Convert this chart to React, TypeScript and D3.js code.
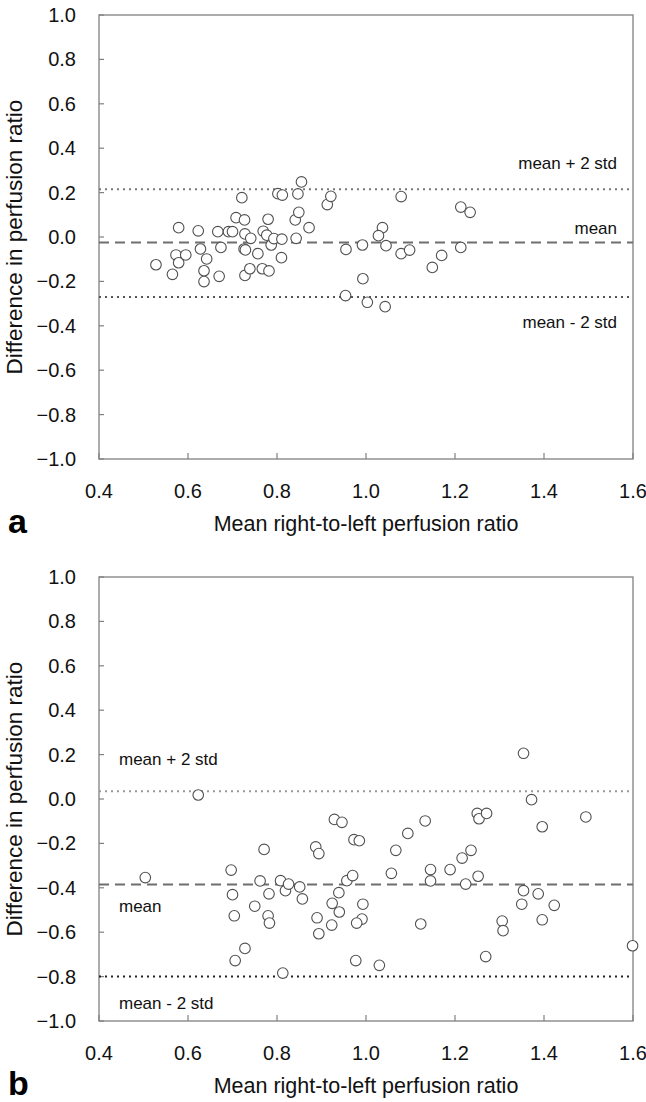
import React, { useRef, useEffect } from "react";
import * as d3 from "d3";

// panel a: mean ratio vs difference
const aX = [0.528, 0.565, 0.573, 0.579, 0.579, 0.595, 0.623, 0.628, 0.642, 0.636, 0.636, 0.667, 0.674, 0.670, 0.691, 0.700, 0.708, 0.721, 0.727, 0.728, 0.726, 0.729, 0.741, 0.728, 0.739, 0.757, 0.769, 0.777, 0.780, 0.787, 0.793, 0.767, 0.782, 0.802, 0.812, 0.811, 0.810, 0.841, 0.849, 0.847, 0.855, 0.843, 0.872, 0.913, 0.921, 0.955, 0.954, 0.992, 0.993, 1.003, 1.037, 1.028, 1.045, 1.043, 1.079, 1.079, 1.098, 1.149, 1.170, 1.213, 1.213, 1.234];
const aY = [-0.125, -0.168, -0.081, -0.116, 0.042, -0.081, 0.028, -0.054, -0.099, -0.152, -0.201, 0.024, -0.047, -0.177, 0.024, 0.024, 0.087, 0.177, 0.077, 0.014, -0.054, -0.058, -0.006, -0.173, -0.143, -0.075, 0.026, 0.008, 0.080, -0.036, -0.007, -0.143, -0.153, 0.195, 0.189, -0.010, -0.093, 0.077, 0.111, 0.194, 0.248, -0.006, 0.042, 0.146, 0.183, -0.056, -0.264, -0.036, -0.188, -0.294, 0.042, 0.006, -0.039, -0.314, 0.182, -0.075, -0.059, -0.137, -0.083, -0.047, 0.135, 0.111];

// panel b
const bX = [0.504, 0.623, 0.697, 0.700, 0.704, 0.706, 0.728, 0.750, 0.762, 0.771, 0.782, 0.780, 0.783, 0.808, 0.813, 0.819, 0.826, 0.851, 0.857, 0.887, 0.894, 0.890, 0.894, 0.929, 0.946, 0.924, 0.923, 0.939, 0.940, 0.957, 0.970, 0.973, 0.985, 0.993, 0.991, 0.979, 0.977, 1.030, 1.057, 1.067, 1.094, 1.123, 1.133, 1.145, 1.145, 1.189, 1.216, 1.236, 1.224, 1.252, 1.250, 1.254, 1.271, 1.269, 1.306, 1.308, 1.354, 1.372, 1.354, 1.350, 1.387, 1.396, 1.396, 1.423, 1.494, 1.599];
const bY = [-0.354, 0.018, -0.320, -0.431, -0.526, -0.728, -0.673, -0.483, -0.369, -0.227, -0.427, -0.526, -0.559, -0.368, -0.784, -0.413, -0.383, -0.396, -0.450, -0.216, -0.246, -0.535, -0.607, -0.092, -0.105, -0.470, -0.568, -0.422, -0.509, -0.368, -0.345, -0.183, -0.188, -0.474, -0.541, -0.559, -0.728, -0.749, -0.335, -0.231, -0.155, -0.563, -0.099, -0.318, -0.369, -0.318, -0.266, -0.231, -0.383, -0.348, -0.065, -0.089, -0.065, -0.710, -0.550, -0.593, 0.206, -0.003, -0.413, -0.474, -0.427, -0.125, -0.544, -0.479, -0.081, -0.661];

const xTicks = [0.4, 0.6, 0.8, 1.0, 1.2, 1.4, 1.6];
const yTicks = [-1.0, -0.8, -0.6, -0.4, -0.2, 0.0, 0.2, 0.4, 0.6, 0.8, 1.0];

// mean, mean + 2 std, mean - 2 std
const statsA = [-0.025, 0.215, -0.27];
const statsB = [-0.385, 0.035, -0.80];
const statLabels = ["mean", "mean + 2 std", "mean - 2 std"];

const FONT = "'Liberation Sans', Arial, sans-serif";

const App = () => {
  const ref = useRef(null);

  const drawPanel = (root, top, xs, ys, stats, letter, labelPos) => {
    const left = 99, right = 633, height = 444;
    const g = root.append("g");

    const x = d3.scaleLinear().domain([0.4, 1.6]).range([left, right]);
    const y = d3.scaleLinear().domain([-1, 1]).range([top + height, top]);

    // frame
    g.append("rect")
      .attr("x", left).attr("y", top)
      .attr("width", right - left).attr("height", height)
      .attr("fill", "none").attr("stroke", "#808080").attr("stroke-width", 1.3);

    // y ticks
    g.selectAll(".yt").data(yTicks).enter().append("line")
      .attr("x1", left).attr("x2", left + 5)
      .attr("y1", d => y(d)).attr("y2", d => y(d))
      .attr("stroke", "#808080").attr("stroke-width", 1.2);
    g.selectAll(".yl").data(yTicks).enter().append("text")
      .attr("x", 76).attr("y", d => y(d) + 7)
      .attr("text-anchor", "end")
      .attr("font-family", FONT).attr("font-size", 20).attr("fill", "#111")
      .text(d => d3.format(".1f")(d));

    // x ticks
    g.selectAll(".xt").data(xTicks).enter().append("line")
      .attr("x1", d => x(d)).attr("x2", d => x(d))
      .attr("y1", top + height).attr("y2", top + height - 6)
      .attr("stroke", "#808080").attr("stroke-width", 1.2);
    g.selectAll(".xl").data(xTicks).enter().append("text")
      .attr("x", d => x(d)).attr("y", top + height + 39)
      .attr("text-anchor", "middle")
      .attr("font-family", FONT).attr("font-size", 20).attr("fill", "#111")
      .text(d => d3.format(".1f")(d));

    // mean / limits
    const styles = [
      { dash: "10,6", color: "#6e6e6e", w: 2 },
      { dash: "2,4", color: letter === "a" ? "#777" : "#999", w: 2 },
      { dash: "2,4", color: letter === "a" ? "#555" : "#222", w: 2 },
    ];
    stats.forEach((v, i) => {
      g.append("line")
        .attr("x1", left).attr("x2", right)
        .attr("y1", y(v)).attr("y2", y(v))
        .attr("stroke", styles[i].color)
        .attr("stroke-width", styles[i].w)
        .attr("stroke-dasharray", styles[i].dash);
      g.append("text")
        .attr("x", labelPos.x).attr("y", labelPos.ys[i])
        .attr("text-anchor", labelPos.anchor)
        .attr("font-family", FONT).attr("font-size", 17).attr("fill", "#111")
        .text(statLabels[i]);
    });

    // points
    g.selectAll(".pt").data(xs.map((d, i) => [d, ys[i]])).enter().append("circle")
      .attr("cx", d => x(d[0])).attr("cy", d => y(d[1]))
      .attr("r", 5.3)
      .attr("fill", "white").attr("stroke", "#505050").attr("stroke-width", 1.1);

    // axis titles
    g.append("text")
      .attr("x", (left + right) / 2).attr("y", top + height + 72)
      .attr("text-anchor", "middle")
      .attr("font-family", FONT).attr("font-size", 21.5).attr("fill", "#111")
      .text("Mean right-to-left perfusion ratio");
    g.append("text")
      .attr("transform", `translate(22,${top + height / 2}) rotate(-90)`)
      .attr("text-anchor", "middle")
      .attr("font-family", FONT).attr("font-size", 22.5).attr("fill", "#111")
      .text("Difference in perfusion ratio");

    g.append("text")
      .attr("x", 8).attr("y", top + height + 74)
      .attr("font-family", FONT).attr("font-size", 34).attr("font-weight", "bold")
      .attr("fill", "#000")
      .text(letter);
  };

  useEffect(() => {
    if (!ref.current) return;
    d3.select(ref.current).selectAll("*").remove();
    const svg = d3.select(ref.current);
    svg.append("rect").attr("width", 646).attr("height", 1102).attr("fill", "white");
    drawPanel(svg, 15, aX, aY, statsA, "a", { x: 617, anchor: "end", ys: [234, 169, 328] });
    drawPanel(svg, 577, bX, bY, statsB, "b", { x: 119, anchor: "start", ys: [912, 765, 1009] });
  }, []);

  return (
    <svg ref={ref} width={646} height={1102}
      style={{ position: "absolute", left: 0, top: 0, display: "block" }} />
  );
};

export default App;
